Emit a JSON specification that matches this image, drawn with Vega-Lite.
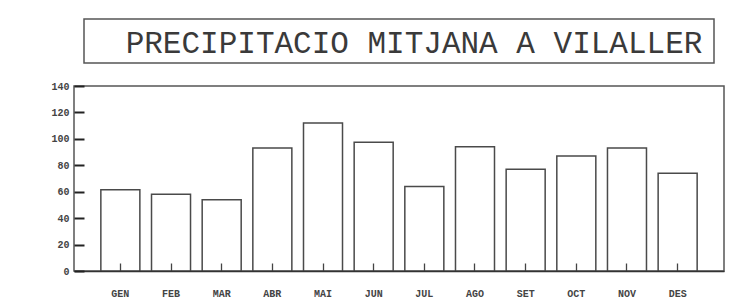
{
  "$schema": "https://vega.github.io/schema/vega-lite/v6.json",
  "padding": {"left": 50, "top": 18, "right": 0, "bottom": 0},
  "spacing": 23,
  "bounds": "flush",
  "center": true,
  "vconcat": [
    {
      "width": 630,
      "height": 44,
      "view": {"stroke": "#555", "strokeWidth": 1.5},
      "data": {"values": [{"t": "PRECIPITACIO MITJANA A VILALLER", "x": 0.5, "y": 0.5}]},
      "mark": {"type": "text", "font": "Liberation Mono", "fontSize": 31, "color": "#3a3a3a", "dx": 15, "dy": 3, "baseline": "middle"},
      "encoding": {
        "text": {"field": "t"},
        "x": {"field": "x", "type": "quantitative", "scale": {"domain": [0, 1]}, "axis": null},
        "y": {"field": "y", "type": "quantitative", "scale": {"domain": [0, 1]}, "axis": null}
      }
    },
    {
      "width": 650,
      "height": 185,
      "data": {"values": [
        {"mes": "GEN", "mm": 61.5},
        {"mes": "FEB", "mm": 58},
        {"mes": "MAR", "mm": 54},
        {"mes": "ABR", "mm": 93},
        {"mes": "MAI", "mm": 112},
        {"mes": "JUN", "mm": 97.5},
        {"mes": "JUL", "mm": 64},
        {"mes": "AGO", "mm": 94},
        {"mes": "SET", "mm": 77},
        {"mes": "OCT", "mm": 87},
        {"mes": "NOV", "mm": 93},
        {"mes": "DES", "mm": 74}
      ]},
      "mark": {"type": "bar", "fill": "white", "stroke": "#4a4a4a", "strokeWidth": 1.5},
      "encoding": {
        "x": {"field": "mes", "type": "nominal", "sort": null,
              "scale": {"paddingInner": 0.23, "paddingOuter": 0.53},
              "axis": {"title": null, "labelAngle": 0, "tickSize": -8, "labelPadding": 25, "zindex": 1,
                       "domainColor": "#333", "domainWidth": 1.5, "tickColor": "#444", "tickWidth": 1.3,
                       "labelFont": "Liberation Mono", "labelFontWeight": "bold", "labelFontSize": 10, "labelColor": "#444"}},
        "y": {"field": "mm", "type": "quantitative",
              "scale": {"domain": [0, 140], "nice": false},
              "axis": {"title": null, "values": [0, 20, 40, 60, 80, 100, 120, 140], "grid": false, "zindex": 2,
                       "ticks": true, "tickSize": -10, "labelPadding": 15, "domain": false, "tickColor": "#222", "tickWidth": 2,
                       "labelFont": "Liberation Mono", "labelFontWeight": "bold", "labelFontSize": 10, "labelColor": "#444"}}
      }
    }
  ],
  "config": {"view": {"stroke": "#555", "strokeWidth": 1.5}, "axisY": {"ticks": true}}
}
